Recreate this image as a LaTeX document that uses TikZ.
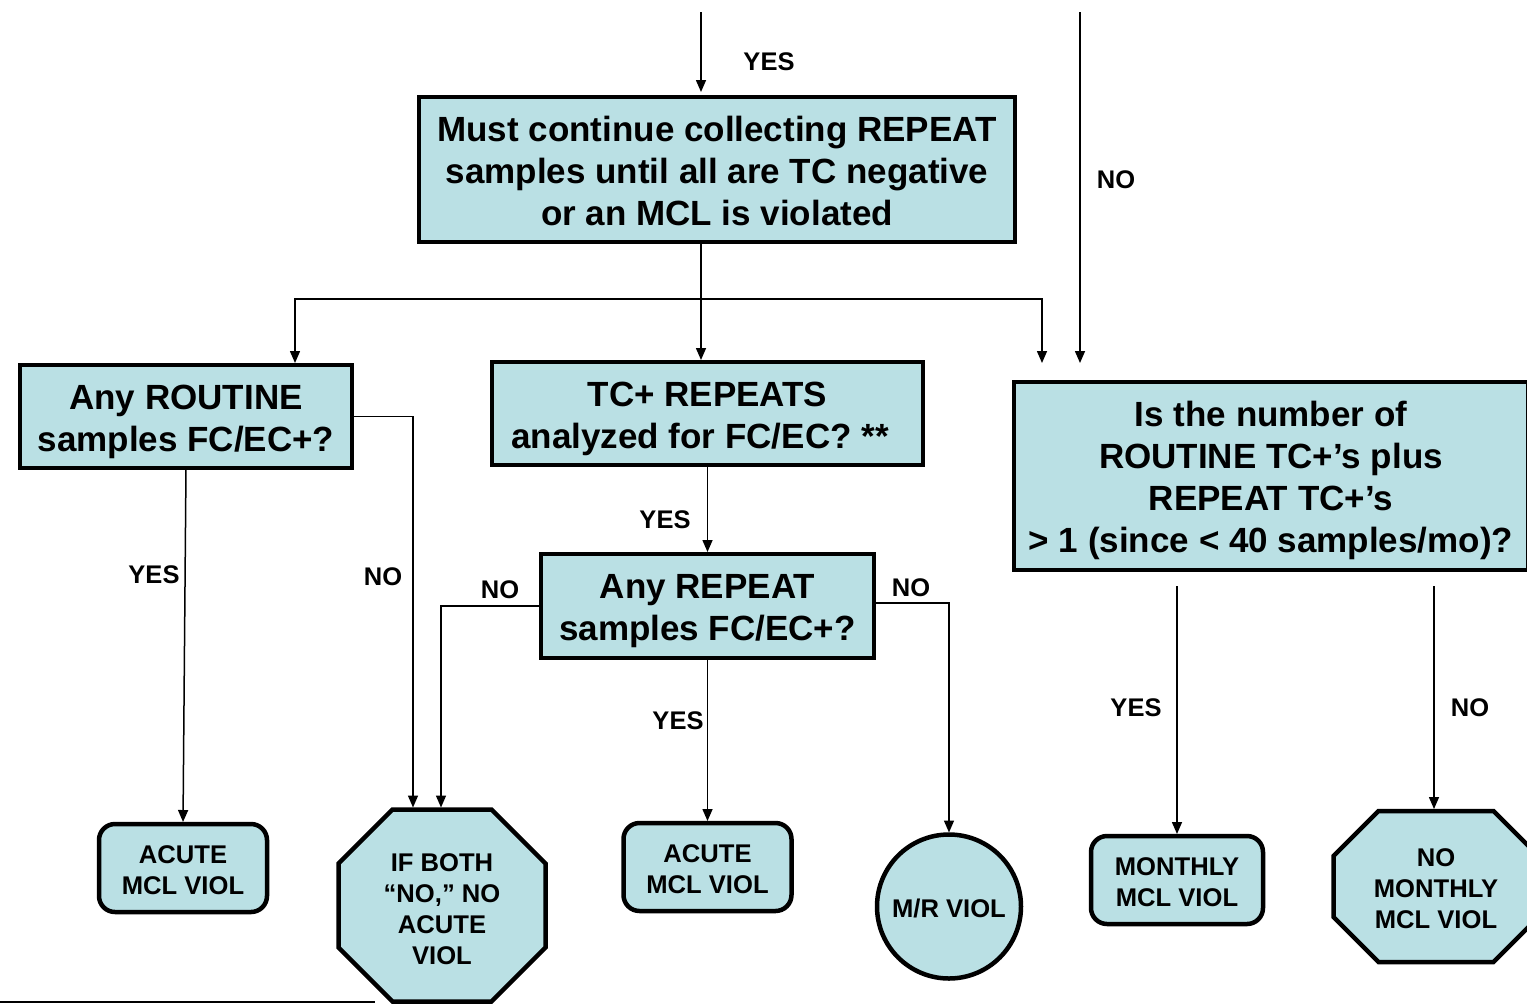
\documentclass[tikz,border=0pt]{standalone}
\usepackage{fontspec}
\setmainfont{Liberation Sans}
\usetikzlibrary{arrows.meta,backgrounds,calc}
\definecolor{boxfill}{RGB}{186,224,228}
\newcommand\drawoct[2]{%
  \draw[octline] ([xshift=#2]#1.north west) -- ([xshift=-#2]#1.north east) -- ([yshift=-#2]#1.north east) -- ([yshift=#2]#1.south east) -- ([xshift=-#2]#1.south east) -- ([xshift=#2]#1.south west) -- ([yshift=#2]#1.south west) -- ([yshift=-#2]#1.north west) -- cycle;}
\newcommand\tstrutA{\rule{0pt}{34.5pt}}
\newcommand\tstrutM{\rule{0pt}{28.5pt}}
\newcommand\tstrutB{\rule{0pt}{23.2pt}}
\newcommand\tstrutC{\rule{0pt}{25pt}}
\begin{document}
\begin{tikzpicture}[x=1pt,y=-1pt,
  qbox/.style={draw, line width=4.5pt, fill=boxfill, align=center, inner sep=0pt, outer sep=0pt,
    font=\bfseries\fontsize{35pt}{42pt}\selectfont},
  endbox/.style={draw, line width=4.5pt, fill=boxfill, rounded corners=16pt, align=center, inner sep=0pt, outer sep=0pt,
    minimum width=168pt, minimum height=88pt, font=\bfseries\fontsize{25.6pt}{31pt}\selectfont},
  octtext/.style={align=center, inner sep=0pt, outer sep=0pt, font=\bfseries\fontsize{25.6pt}{31pt}\selectfont},
  octline/.style={draw, line width=4.5pt, fill=boxfill, line join=miter},
  circbox/.style={draw, circle, line width=4.5pt, fill=boxfill, inner sep=0pt, outer sep=0pt, minimum size=144pt,
    font=\bfseries\fontsize{25.6pt}{31pt}\selectfont},
  lab/.style={inner sep=0pt, font=\bfseries\fontsize{25.5pt}{30pt}\selectfont},
  arr/.style={line width=1.5pt, -{Triangle[length=12pt,width=10pt]}}
]
\useasboundingbox (0,0) rectangle (1527,1005);

% main nodes
\node[qbox, minimum width=596pt, minimum height=145pt] (main) at (717,169.5)
  {\tstrutM Must continue collecting REPEAT\\samples until all are TC negative\\or an MCL is violated};
\node[qbox, minimum width=332pt, minimum height=103pt] (rout) at (186,416.5)
  {\tstrutA Any ROUTINE\\samples FC/EC+?};
\node[qbox, minimum width=431pt, minimum height=103pt] (tcrep) at (707.5,413.5)
  {\tstrutA TC+ REPEATS\\analyzed for FC/EC? **\hspace{15pt}\mbox{}};
\node[qbox, minimum width=333pt, minimum height=104pt] (anyrep) at (707.5,606)
  {\tstrutA Any REPEAT\\samples FC/EC+?};
\node[qbox, minimum width=514pt, minimum height=188pt] (bigq) at (1271,476)
  {\tstrutA Is the number of\\ROUTINE TC+’s plus\\REPEAT TC+’s\\> 1 (since < 40 samples/mo)?};

\node[endbox] (acute1) at (183,868) {\tstrutB ACUTE\\MCL VIOL};
\node[endbox] (acute2) at (707.5,867) {\tstrutB ACUTE\\MCL VIOL};
\node[endbox, minimum width=172pt] (monthly) at (1177,880) {\tstrutB MONTHLY\\MCL VIOL};
\node[circbox] (mr) at (949,906.5) {\tstrutB M/R VIOL};

\node[octtext, minimum width=207pt, minimum height=192pt] (oct1) at (442,905.5)
  {\tstrutC IF BOTH\\“NO,” NO\\ACUTE\\VIOL};
\node[octtext, minimum width=205pt, minimum height=151pt] (oct2) at (1436,886.5)
  {\tstrutB NO\\MONTHLY\\MCL VIOL};
\begin{scope}[on background layer]
  \drawoct{oct1}{54pt}
  \drawoct{oct2}{45pt}
\end{scope}

% coordinates
\coordinate (topin) at (701,12);
\coordinate (topno) at (1080,12);
\coordinate (split) at (701,299);

% connectors
\draw[arr, shorten >=5pt] (topin) -- (topin |- main.north);
\draw[arr, shorten >=19pt] (topno) -- (topno |- bigq.north);
\draw[arr, shorten >=2pt] ([xshift=-16pt]main.south) -- ([xshift=-16pt]main.south |- tcrep.north);
\draw[arr, shorten >=2pt] (split) -| ([xshift=109pt]rout.north);
\draw[arr, shorten >=19pt] (split) -| ([xshift=-229pt]bigq.north);
\draw[arr, shorten >=2pt] (rout.east) -| ([xshift=-29pt]oct1.north);
\draw[arr, shorten >=2pt] (rout.south) -- (acute1.north);
\draw[arr, shorten >=2pt] (tcrep.south) -- (anyrep.north);
\draw[arr, shorten >=2pt] (anyrep.west) -| ([xshift=-1pt]oct1.north);
\draw[arr, shorten >=2pt] ([yshift=3pt]anyrep.east) -| (mr.north);
\draw[arr, shorten >=2pt] (anyrep.south) -- (acute2.north);
\draw[arr, shorten <=16pt, shorten >=2pt] (bigq.south -| monthly.north) -- (monthly.north);
\draw[arr, shorten <=16pt, shorten >=2pt] ([xshift=-2pt]bigq.south -| oct2.north) -- ([xshift=-2pt]oct2.north);

% labels
\node[lab] (l1) at (769,62) {YES};
\node[lab] (l2) at (1116,180) {NO};
\node[lab] (l3) at (154,575) {YES};
\node[lab] (l4) at (383,577) {NO};
\node[lab] (l5) at (500,590) {NO};
\node[lab] (l6) at (911,588) {NO};
\node[lab] (l7) at (665,520) {YES};
\node[lab] (l8) at (678,721) {YES};
\node[lab] (l9) at (1136,708) {YES};
\node[lab] (l10) at (1470,708) {NO};

% footnote rule
\draw[line width=2pt] (0,1002) -- (375,1002);
\end{tikzpicture}
\end{document}
